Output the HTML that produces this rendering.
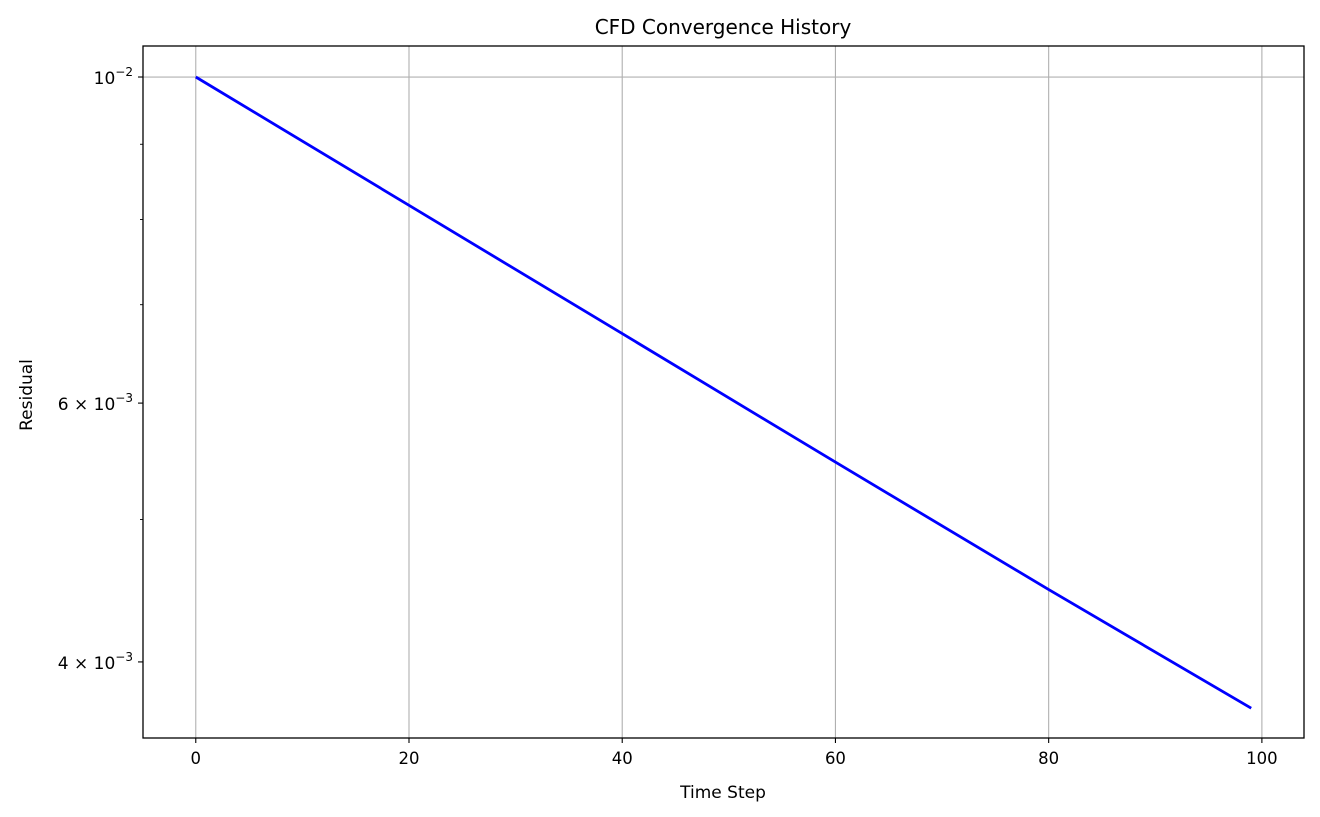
<!DOCTYPE html>
<html><head><meta charset="utf-8"><style>
body{margin:0;background:#fff;}
svg{display:block;font-family:"DejaVu Sans","Liberation Sans",sans-serif;}
</style></head><body>
<svg id="chart" width="1320" height="817" viewBox="0 0 1320 817">
<rect width="1320" height="817" fill="#fff"/>
<g id="grid"></g>
<g id="series"></g>
<rect x="143" y="46" width="1161" height="692" fill="none" stroke="#000" stroke-width="1.3"/>
<g id="axes"></g>
<text x="723" y="34" text-anchor="middle" font-size="20">CFD Convergence History</text>
<text x="723" y="798" text-anchor="middle" font-size="17">Time Step</text>
<text transform="translate(32,395) rotate(-90)" text-anchor="middle" font-size="17">Residual</text>
</svg>
<script>
const timeSteps = [0, 20, 40, 60, 80, 99];
const residuals = [0.0100, 0.00818, 0.00669, 0.00547, 0.00448, 0.00372];
const xTicks = [0, 20, 40, 60, 80, 100];
const yMajorTicks = [0.01, 0.006, 0.004];
const yMajorLabels = ["10", "6 × 10", "4 × 10"];
const yMajorExps = ["−2", "−3", "−3"];
const yMinorTicks = [0.009, 0.008, 0.007, 0.005];

const L=143,R=1304,T=46,B=738;
const xmin=-4.95,xmax=103.95,lymax=-1.9789,lymin=-2.4497;
const X=v=>L+(v-xmin)/(xmax-xmin)*(R-L);
const Y=v=>T+(lymax-Math.log10(v))/(lymax-lymin)*(B-T);
const NS="http://www.w3.org/2000/svg";
function mk(tag,attrs,parent){const e=document.createElementNS(NS,tag);for(const k in attrs)e.setAttribute(k,attrs[k]);parent.appendChild(e);return e;}
const grid=document.getElementById('grid'),axes=document.getElementById('axes'),series=document.getElementById('series');

xTicks.forEach((t,i)=>{
  const x=X(t);
  const g=mk('line',{x1:x,x2:x,y1:T,y2:B,stroke:'#b0b0b0','stroke-width':1.1},grid);
  
  
  const tk=mk('line',{x1:x,x2:x,y1:B,y2:B+5,stroke:'#000','stroke-width':1.1},axes);
  
  
  const lb=mk('text',{x:x,y:B+26,'text-anchor':'middle','font-size':16.5},axes);
  lb.textContent=t;
  
  
});
yMajorTicks.forEach((v,i)=>{
  const y=Y(v);
  if(v===0.01){
    const g=mk('line',{x1:L,x2:R,y1:y,y2:y,stroke:'#b0b0b0','stroke-width':1.1},grid);
    
    
  }
  const tk=mk('line',{x1:L-5,x2:L,y1:y,y2:y,stroke:'#000','stroke-width':1.1},axes);
  
  
  const lb=mk('text',{x:L-10,y:y+7,'text-anchor':'end','font-size':17},axes);
  
  
  const base=mk('tspan',{},lb);
  base.textContent=yMajorLabels[i];
  const ex=mk('tspan',{dy:-8,'font-size':12},lb);
  ex.textContent=yMajorExps[i];
});
yMinorTicks.forEach(v=>{
  const y=Y(v);
  const tk=mk('line',{x1:L-3,x2:L,y1:y,y2:y,stroke:'#000','stroke-width':0.9},axes);
  
  
});
const pts=timeSteps.map((t,i)=>X(t).toFixed(1)+','+Y(residuals[i]).toFixed(1)).join(' ');
const line=mk('polyline',{points:pts,fill:'none',stroke:'#0000ff','stroke-width':2.8},series);


</script>
</body></html>
